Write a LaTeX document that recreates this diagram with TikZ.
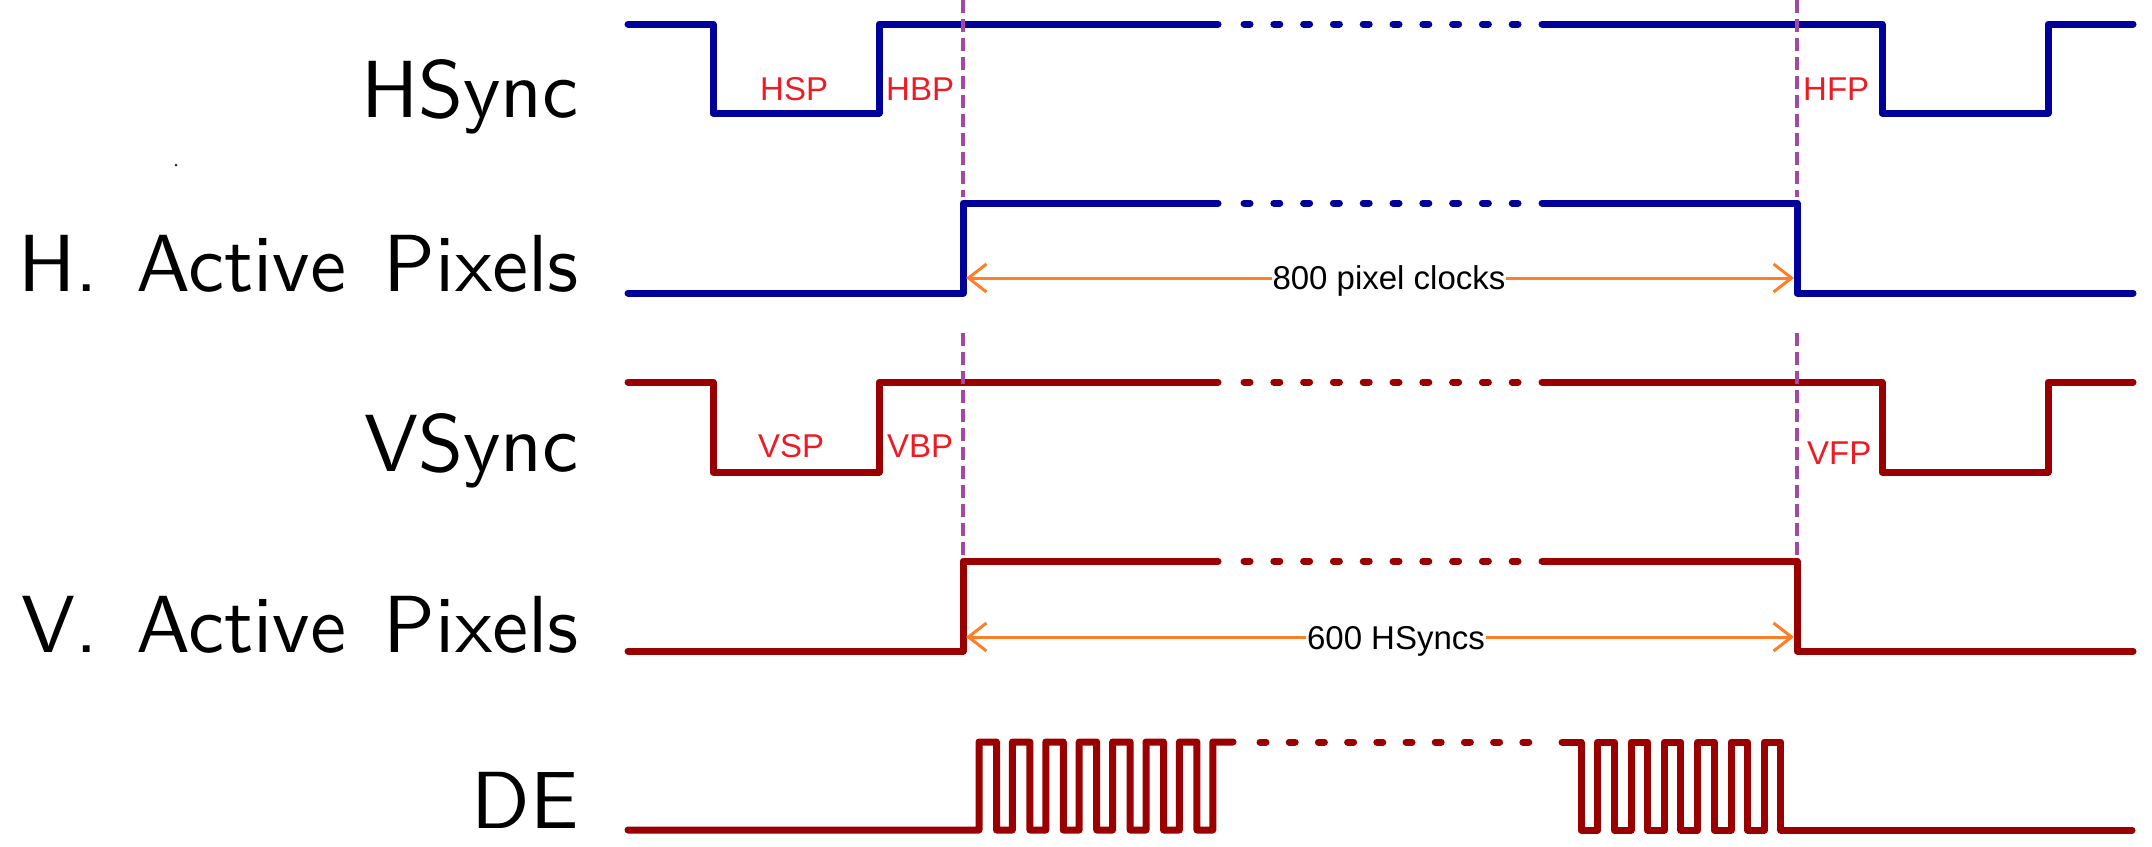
\documentclass[tikz,border=0pt]{standalone}
\usepackage{fontspec}
\newfontfamily\arialf{Liberation Sans}
\newfontfamily\lblfont{lmsans10-regular.otf}
\usetikzlibrary{arrows.meta}
\definecolor{sigblue}{RGB}{0,0,155}
\definecolor{sigred}{RGB}{155,0,0}
\definecolor{guide}{RGB}{163,73,164}
\definecolor{dimorange}{RGB}{255,127,39}
\definecolor{lblred}{RGB}{237,28,36}
\begin{document}
\begin{tikzpicture}[x=1pt,y=-1pt,
  wave/.style={line width=7pt,line join=round,line cap=round},
  hwave/.style={wave,draw=sigblue},
  vwave/.style={wave,draw=sigred},
  hdots/.style={dash pattern=on 6pt off 23.8pt},
  dedots/.style={dash pattern=on 6pt off 23.2pt},
  guideline/.style={draw=guide,line width=3.5pt,dash pattern=on 13pt off 6pt},
  dim/.style={draw=dimorange,line width=3pt,{Straight Barb[length=18pt,width=28pt]}-{Straight Barb[length=18pt,width=28pt]}},
  siglabel/.style={anchor=base east,inner sep=0pt,font=\fontsize{81}{90}\selectfont\lblfont},
  phase/.style={anchor=base west,inner sep=0pt,text=lblred,font=\fontsize{33}{40}\selectfont\arialf},
  dimlabel/.style={anchor=base,fill=white,inner sep=1pt,font=\fontsize{33}{40}\selectfont\arialf}
]
\useasboundingbox (0,0) rectangle (2152,846);

% signal names
\node[siglabel] (lhs) at (579,117) {HSync};
\node[siglabel] (lha) at (579,291) {H.\hspace{0.47em}Active\hspace{0.47em}Pixels};
\node[siglabel] (lvs) at (579,471) {VSync};
\node[siglabel] (lva) at (579,652) {V.\hspace{0.47em}Active\hspace{0.47em}Pixels};
\node[siglabel] (lde) at (579,828) {DE};
\fill[black!80] (176,165) circle (1.5pt);

% HSync
\draw[hwave] (628,24) -- (713,24) -- (713,113) -- (879,113) -- (879,24) -- (1218,24);
\draw[hwave,hdots] (1244,24) -- (1518,24);
\draw[hwave] (1542,24) -- (1882,24) -- (1882,113) -- (2048,113) -- (2048,24) -- (2133,24);
% H Active
\draw[hwave] (628,293) -- (963,293) -- (963,203) -- (1218,203);
\draw[hwave,hdots] (1244,203) -- (1518,203);
\draw[hwave] (1542,203) -- (1797,203) -- (1797,293) -- (2133,293);
% VSync
\draw[vwave] (628,382) -- (713,382) -- (713,472) -- (879,472) -- (879,382) -- (1218,382);
\draw[vwave,hdots] (1244,382) -- (1518,382);
\draw[vwave] (1542,382) -- (1882,382) -- (1882,472) -- (2048,472) -- (2048,382) -- (2133,382);
% V Active
\draw[vwave] (628,651) -- (963,651) -- (963,561) -- (1218,561);
\draw[vwave,hdots] (1244,561) -- (1518,561);
\draw[vwave] (1542,561) -- (1797,561) -- (1797,651) -- (2133,651);
% DE
\draw[vwave] (628,830) -- (979,830)
  \foreach \k in {0,...,6} { -- ({979+33.4*\k},742) -- ({996.5+33.4*\k},742) -- ({996.5+33.4*\k},830) -- ({1012.4+33.4*\k},830) }
  -- (1212.8,742) -- (1233,742);
\draw[vwave,dedots] (1260,742) -- (1529,742);
\draw[vwave] (1562,742) -- (1581,742) -- (1581,830)
  \foreach \k in {0,...,5} { -- ({1597.7+33.33*\k},830) -- ({1597.7+33.33*\k},742) -- ({1614.3+33.33*\k},742) -- ({1614.3+33.33*\k},830) }
  -- (2132,830);

% guide lines
\draw[guideline] (963,0) -- (963,197);
\draw[guideline] (963,333) -- (963,557);
\draw[guideline] (1797,0) -- (1797,197);
\draw[guideline] (1797,333) -- (1797,557);

% phase labels
\node[phase] (hsp) at (760,100) {HSP};
\node[phase] (hbp) at (886,100) {HBP};
\node[phase] (hfp) at (1803,100) {HFP};
\node[phase] (vsp) at (758,457) {VSP};
\node[phase] (vbp) at (887,457) {VBP};
\node[phase] (vfp) at (1807,464) {VFP};

% dimensions
\coordinate (ha1) at (966,278);
\coordinate (ha2) at (1794,278);
\coordinate (va1) at (966,637);
\coordinate (va2) at (1794,637);
\draw[dim] (ha1) -- (ha2);
\draw[dim] (va1) -- (va2);
\node[dimlabel] (hdim) at (1389,289) {800 pixel clocks};
\node[dimlabel] (vdim) at (1396,649) {600 HSyncs};
\end{tikzpicture}
\end{document}
